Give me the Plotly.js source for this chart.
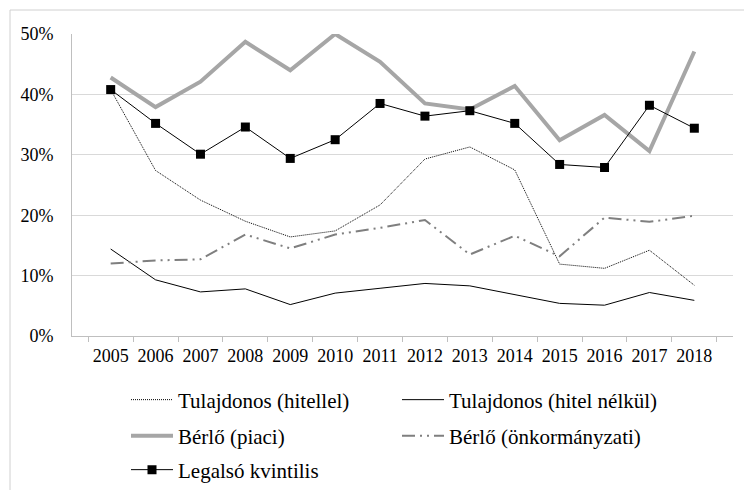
<!DOCTYPE html>
<html>
<head>
<meta charset="utf-8">
<script src="https://cdn.plot.ly/plotly-3.0.1.min.js"></script>
<style>
html, body { margin: 0; padding: 0; background: #fff; }
#chart { width: 744px; height: 490px; }
</style>
</head>
<body>
<div id="chart"></div>
<script>
const years = ['2005','2006','2007','2008','2009','2010','2011','2012','2013','2014','2015','2016','2017','2018'];
const tulajHitellel = [0.408,0.274,0.225,0.190,0.164,0.174,0.217,0.293,0.313,0.275,0.119,0.112,0.142,0.084];
const tulajHitelNelkul = [0.144,0.093,0.073,0.078,0.052,0.071,0.079,0.087,0.083,0.069,0.054,0.051,0.072,0.059];
const berloPiaci = [0.428,0.379,0.421,0.487,0.440,0.500,0.454,0.385,0.375,0.414,0.324,0.366,0.306,0.471];
const berloOnkorm = [0.120,0.125,0.127,0.168,0.145,0.168,0.179,0.192,0.135,0.166,0.132,0.196,0.189,0.199];
const legalso = [0.408,0.352,0.301,0.346,0.294,0.325,0.385,0.364,0.373,0.352,0.284,0.279,0.382,0.344];

const FONT = 'Liberation Serif';

const traces = [
  {name:'Tulajdonos (hitellel)', x:years, y:tulajHitellel, type:'scatter', mode:'lines',
   line:{color:'#000', width:1, dash:'1px,1px'}, legend:'legend'},
  {name:'Tulajdonos (hitel nélkül)', x:years, y:tulajHitelNelkul, type:'scatter', mode:'lines',
   line:{color:'#000', width:1}, legend:'legend'},
  {name:'Bérlő (piaci)', x:years, y:berloPiaci, type:'scatter', mode:'lines',
   line:{color:'#a6a6a6', width:4}, legend:'legend2'},
  {name:'Bérlő (önkormányzati)', x:years, y:berloOnkorm, type:'scatter', mode:'lines',
   line:{color:'#7f7f7f', width:2, dash:'13px,5px,2px,5px,2px,5px'}, legend:'legend2'},
  {name:'Legalsó kvintilis', x:years, y:legalso, type:'scatter', mode:'lines+markers',
   line:{color:'#000', width:1}, marker:{symbol:'square', size:9, color:'#000'}, legend:'legend3'}
];

const W = 744, H = 490;
function leg(x, y) {
  return {
    orientation:'h', xref:'container', yref:'container', xanchor:'left', yanchor:'middle',
    font:{family:FONT, size:21, color:'#000'},
    bgcolor:'rgba(0,0,0,0)', borderwidth:0, itemwidth:42, entrywidth:214, entrywidthmode:'pixels',
    traceorder:'normal', x:x, y:y
  };
}

const layout = {
  width:W, height:H,
  margin:{l:72, r:11, t:34, b:154},
  paper_bgcolor:'#fff', plot_bgcolor:'#fff',
  showlegend:true,
  xaxis:{type:'category', showgrid:false, showline:true, linecolor:'#bfbfbf', linewidth:1,
    ticks:'outside', tickson:'boundaries', ticklen:5, tickcolor:'#bfbfbf', tickangle:0,
    ticklabelstandoff:3,
    tickfont:{family:FONT, size:18, color:'#000'}, zeroline:false, fixedrange:true},
  yaxis:{range:[0,0.5], dtick:0.1, tickformat:'.0%', showgrid:true, gridcolor:'#d9d9d9', gridwidth:1,
    showline:true, linecolor:'#bfbfbf', zeroline:false, ticks:'', ticklabelstandoff:14,
    tickfont:{family:FONT, size:18, color:'#000'}, fixedrange:true},
  legend:leg(126/W, 1-400/H),
  legend2:leg(126/W, 1-436/H),
  legend3:leg(126/W, 1-470/H),
  shapes:[
    {type:'line', xref:'paper', yref:'paper', x0:(10-72)/661, x1:(744-72)/661, y0:(336-10)/302, y1:(336-10)/302,
     line:{color:'#d0d0d0', width:1}},
    {type:'line', xref:'paper', yref:'paper', x0:(10-72)/661, x1:(10-72)/661, y0:(336-10)/302, y1:(336-492)/302,
     line:{color:'#d0d0d0', width:1}}
  ]
};

Plotly.newPlot('chart', traces, layout, {displayModeBar:false, staticPlot:true});
</script>
</body>
</html>
